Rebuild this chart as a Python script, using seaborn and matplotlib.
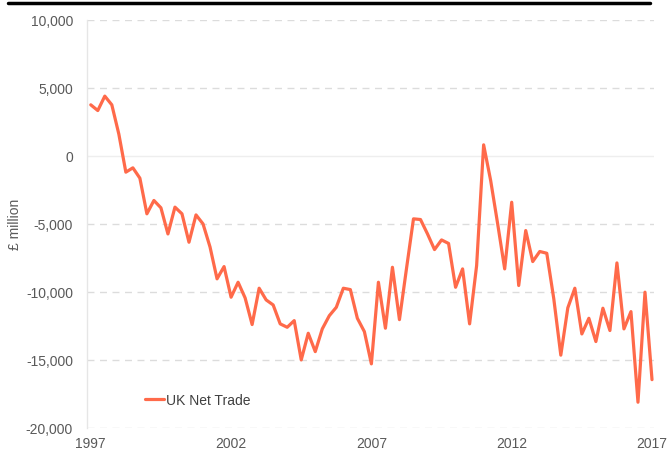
import numpy as np
import matplotlib
matplotlib.use("Agg")
import matplotlib.pyplot as plt
import matplotlib.ticker as mticker
from matplotlib.lines import Line2D
import seaborn as sns
import pandas as pd

# UK net trade, quarterly, 1997 Q1 to 2017 Q1 (GBP million)
start_year = 1997
net_trade = [3750, 3330, 4390, 3750, 1600, -1200, -880, -1640,
             -4260, -3280, -3820, -5740, -3770, -4260, -6350, -4340,
             -5000, -6700, -9040, -8140, -10390, -9290, -10440, -12400,
             -9730, -10590, -10960, -12350, -12600, -12110, -15000, -13040,
             -14390, -12720, -11750, -11130, -9730, -9830, -11940, -12920,
             -15290, -9290, -12670, -8190, -12040, -8300, -4630, -4680,
             -5740, -6890, -6180, -6440, -9660, -8310, -12350, -8070,
             810, -1810, -5000, -8310, -3410, -9530, -5490, -7770,
             -7030, -7160, -10510, -14650, -11170, -9730, -13090, -11940,
             -13650, -11200, -12840, -7870, -12720, -11450, -18110, -10020,
             -16450]
year_ticks = [1997, 2002, 2007, 2012, 2017]
y_ticks = [-20000, -15000, -10000, -5000, 0, 5000, 10000]

df = pd.DataFrame({
    "period": start_year + np.arange(len(net_trade)) / 4,
    "value": net_trade,
})

sns.set_style("white")
plt.rcParams["font.family"] = ["Liberation Sans", "DejaVu Sans"]

fig = plt.figure(figsize=(6.68, 4.52), dpi=100)
ax = fig.add_axes([0.130, 0.051, 0.849, 0.903])

sns.lineplot(data=df, x="period", y="value", ax=ax, color="#FF6A4A",
             linewidth=2.3, label="UK Net Trade")

ax.set_xlim(1996.86, 2017.07)
ax.set_ylim(-20000, 10000)
ax.set_xticks(year_ticks)
ax.set_yticks(y_ticks)
ax.yaxis.set_major_formatter(mticker.FuncFormatter(lambda v, p: f"{int(v):,}"))
ax.tick_params(axis="both", length=0, labelsize=10, colors="#595959")
ax.tick_params(axis="x", pad=6)
ax.tick_params(axis="y", pad=10)

ax.set_xlabel("")
ax.set_ylabel("£ million", fontsize=10, color="#595959", labelpad=3)

ax.yaxis.grid(True, color="#dcdcdc", linestyle=(0, (5, 4)), linewidth=1)
for val, gl in zip(y_ticks, ax.get_ygridlines()):
    if val == 0:
        gl.set_linestyle("-")
        gl.set_color("#eeeeee")

for side in ["top", "right", "bottom"]:
    ax.spines[side].set_visible(False)
ax.spines["left"].set_color("#e6e6e6")
ax.spines["left"].set_linewidth(1)

leg = ax.legend(loc="lower left", bbox_to_anchor=(0.08, 0.02), frameon=False,
                fontsize=10, handlelength=1.4, handletextpad=0.1)
for t in leg.get_texts():
    t.set_color("#404040")

# black rule across the top
fig.add_artist(Line2D([0.012, 0.973], [0.991, 0.991], color="black",
                      linewidth=2.5, transform=fig.transFigure))

fig.savefig("out.png", dpi=100)
